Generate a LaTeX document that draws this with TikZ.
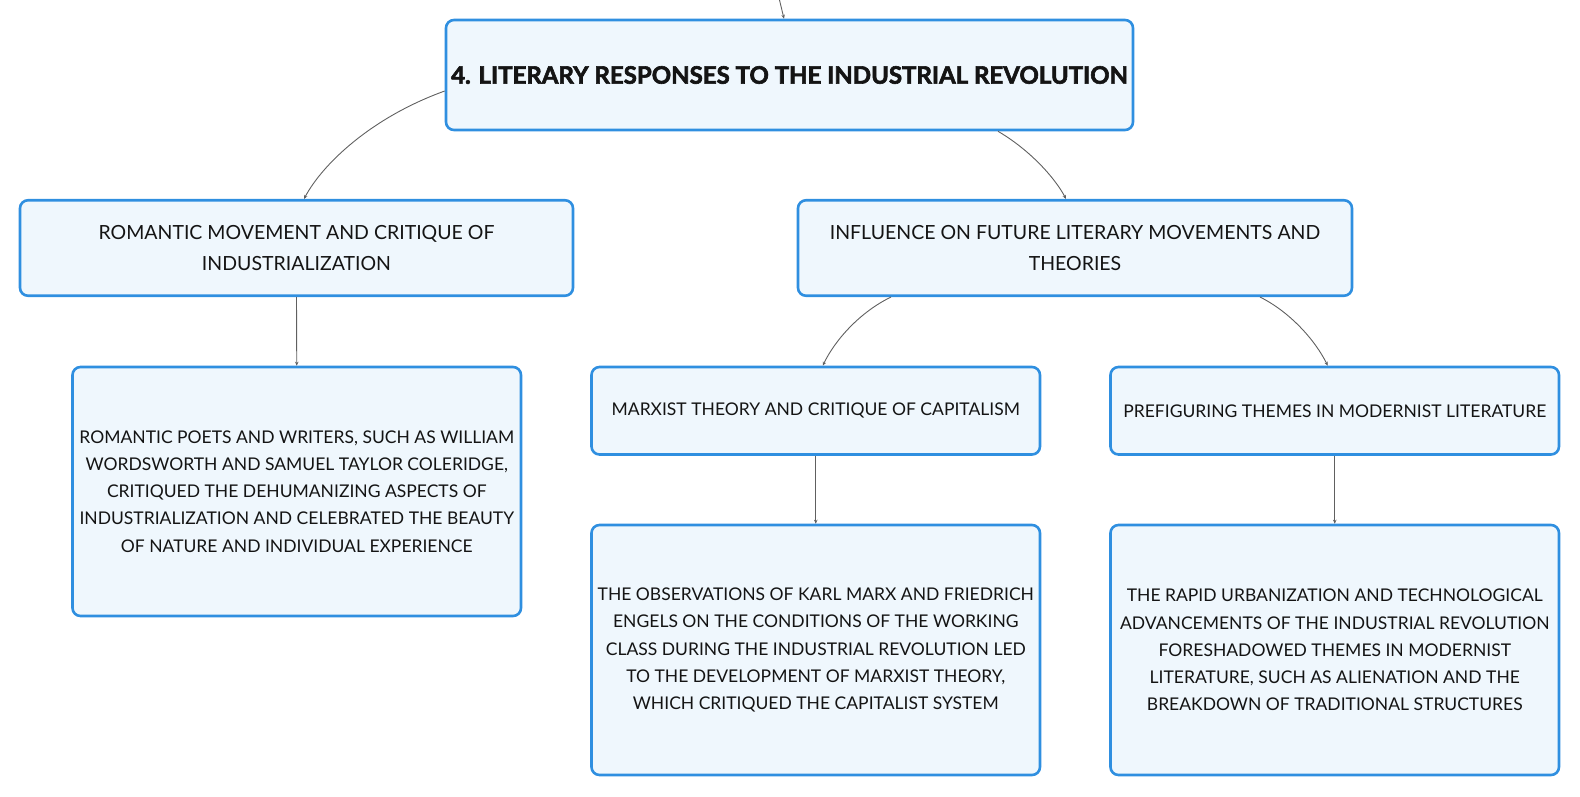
\documentclass[tikz,border=0pt]{standalone}
\usepackage{fontspec}
\setmainfont{Lato}
\newfontfamily\titlefont[BoldFeatures={FakeBold=2.5}]{Lato}
\usetikzlibrary{arrows.meta}
\definecolor{boxblue}{HTML}{2F8FE0}
\definecolor{boxfill}{HTML}{EFF7FD}
\definecolor{linkgray}{HTML}{606060}
\definecolor{txt}{HTML}{141414}
\begin{document}
\begin{tikzpicture}[x=1pt,y=-1pt,
  card/.style={draw=boxblue, fill=boxfill, line width=2.6pt, rounded corners=8pt,
    rectangle, inner sep=0pt, align=center, text=txt},
  lvlone/.style={card, font=\fontsize{19.5}{30.2}\selectfont},
  lvltwo/.style={card, font=\fontsize{17.5}{27.2}\selectfont},
  link/.style={draw=linkgray, line width=0.9pt, -{Stealth[length=4pt,width=3.5pt]}}
]
\useasboundingbox (0,0) rectangle (1580,796);

\node[card, minimum width=687pt, minimum height=110pt, font=\titlefont\bfseries\fontsize{24}{28}\selectfont]
  (root) at (789.5,75) {4. LITERARY RESPONSES TO THE INDUSTRIAL REVOLUTION};

\node[lvlone, minimum width=553pt, minimum height=95.5pt] (rom) at (296.5,248)
  {ROMANTIC MOVEMENT AND CRITIQUE OF\\INDUSTRIALIZATION};
\node[lvlone, minimum width=554pt, minimum height=95.5pt] (inf) at (1075,248)
  {INFLUENCE ON FUTURE LITERARY MOVEMENTS AND\\THEORIES};

\node[lvltwo, minimum width=448.5pt, minimum height=249pt] (romd) at (296.75,491.5)
  {ROMANTIC POETS AND WRITERS, SUCH AS WILLIAM\\WORDSWORTH AND SAMUEL TAYLOR COLERIDGE,\\CRITIQUED THE DEHUMANIZING ASPECTS OF\\INDUSTRIALIZATION AND CELEBRATED THE BEAUTY\\OF NATURE AND INDIVIDUAL EXPERIENCE};

\node[lvltwo, minimum width=448.5pt, minimum height=87.5pt] (marx) at (815.75,410.75)
  {MARXIST THEORY AND CRITIQUE OF CAPITALISM};
\node[lvltwo, minimum width=448.5pt, minimum height=87.5pt] (pref) at (1334.75,410.75)
  {PREFIGURING THEMES IN MODERNIST LITERATURE};

\node[lvltwo, minimum width=448.5pt, minimum height=250pt] (marxd) at (815.75,650)
  {THE OBSERVATIONS OF KARL MARX AND FRIEDRICH\\ENGELS ON THE CONDITIONS OF THE WORKING\\CLASS DURING THE INDUSTRIAL REVOLUTION LED\\TO THE DEVELOPMENT OF MARXIST THEORY,\\WHICH CRITIQUED THE CAPITALIST SYSTEM};
\node[lvltwo, minimum width=448.5pt, minimum height=250pt] (modd) at (1334.75,650)
  {THE RAPID URBANIZATION AND TECHNOLOGICAL\\ADVANCEMENTS OF THE INDUSTRIAL REVOLUTION\\FORESHADOWED THEMES IN MODERNIST\\LITERATURE, SUCH AS ALIENATION AND THE\\BREAKDOWN OF TRADITIONAL STRUCTURES};

\coordinate (incoming) at (779,-2);
\draw[link] (incoming) -- ([xshift=-5.5pt]root.north);

\draw[link] ([yshift=-16pt]root.west) .. controls (370,118) and (322,165) .. ([xshift=7.5pt]rom.north);
\draw[link] ([xshift=208.5pt]root.south) .. controls (1030,150) and (1055,178) .. ([xshift=-9pt]inf.north);
\draw[link] ([xshift=-184pt]inf.south) .. controls (860,312) and (835,340) .. ([xshift=7pt]marx.north);
\draw[link] ([xshift=185pt]inf.south) .. controls (1290,312) and (1315,340) .. ([xshift=-7pt]pref.north);

\draw[link] (rom.south) -- (romd.north);
\draw[link] (marx.south) -- (marxd.north);
\draw[link] (pref.south) -- (modd.north);
\end{tikzpicture}
\end{document}
